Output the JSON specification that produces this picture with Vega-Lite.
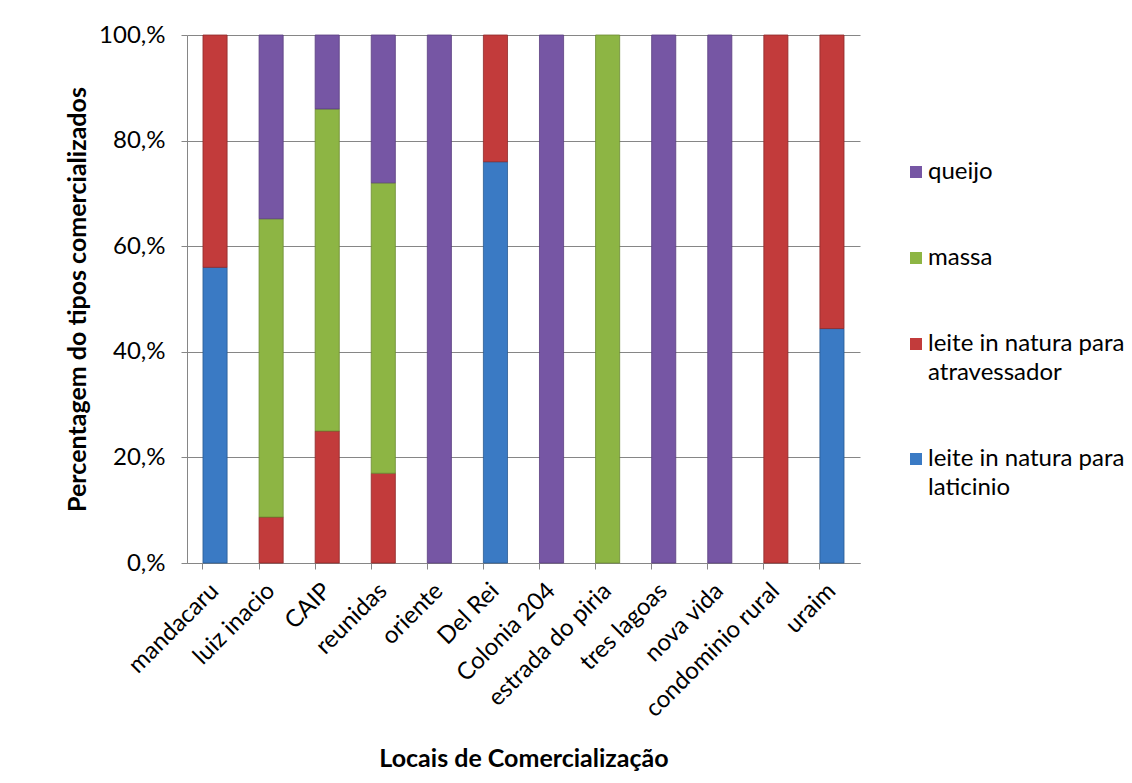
{
  "$schema": "https://vega.github.io/schema/vega-lite/v6.json",
  "width": 673,
  "height": 528,
  "autosize": {"type": "none"},
  "padding": {"left": 187, "top": 35, "right": 272, "bottom": 220},
  "background": "white",
  "config": {
    "view": {"stroke": null},
    "font": "Lato",
    "axis": {"labelFont": "Lato", "titleFont": "Lato", "labelColor": "#000000", "titleColor": "#000000"},
    "legend": {"labelFont": "Lato"},
    "style": {"guide-label": {"lineHeight": 29}}
  },
  "data": {
    "values": [
      {"local": "mandacaru", "tipo": "leite in natura para laticinio", "k": 1, "pct": 56},
      {"local": "mandacaru", "tipo": "leite in natura para atravessador", "k": 2, "pct": 44},
      {"local": "luiz inacio", "tipo": "leite in natura para atravessador", "k": 2, "pct": 8.7},
      {"local": "luiz inacio", "tipo": "massa", "k": 3, "pct": 56.5},
      {"local": "luiz inacio", "tipo": "queijo", "k": 4, "pct": 34.8},
      {"local": "CAIP", "tipo": "leite in natura para atravessador", "k": 2, "pct": 25},
      {"local": "CAIP", "tipo": "massa", "k": 3, "pct": 61},
      {"local": "CAIP", "tipo": "queijo", "k": 4, "pct": 14},
      {"local": "reunidas", "tipo": "leite in natura para atravessador", "k": 2, "pct": 17},
      {"local": "reunidas", "tipo": "massa", "k": 3, "pct": 55},
      {"local": "reunidas", "tipo": "queijo", "k": 4, "pct": 28},
      {"local": "oriente", "tipo": "queijo", "k": 4, "pct": 100},
      {"local": "Del Rei", "tipo": "leite in natura para laticinio", "k": 1, "pct": 76},
      {"local": "Del Rei", "tipo": "leite in natura para atravessador", "k": 2, "pct": 24},
      {"local": "Colonia 204", "tipo": "queijo", "k": 4, "pct": 100},
      {"local": "estrada do piria", "tipo": "massa", "k": 3, "pct": 100},
      {"local": "tres lagoas", "tipo": "queijo", "k": 4, "pct": 100},
      {"local": "nova vida", "tipo": "queijo", "k": 4, "pct": 100},
      {"local": "condominio rural", "tipo": "leite in natura para atravessador", "k": 2, "pct": 100},
      {"local": "uraim", "tipo": "leite in natura para laticinio", "k": 1, "pct": 44.4},
      {"local": "uraim", "tipo": "leite in natura para atravessador", "k": 2, "pct": 55.6}
    ]
  },
  "mark": {"type": "bar", "strokeWidth": 0.8},
  "encoding": {
    "x": {
      "field": "local",
      "type": "nominal",
      "sort": ["mandacaru", "luiz inacio", "CAIP", "reunidas", "oriente", "Del Rei", "Colonia 204", "estrada do piria", "tres lagoas", "nova vida", "condominio rural", "uraim"],
      "scale": {"paddingInner": 0.57, "paddingOuter": 0.285},
      "axis": {
        "title": "Locais de Comercialização",
        "titleFontSize": 25,
        "titleFontWeight": "bold",
        "titleY": 203,
        "titleBaseline": "alphabetic",
        "labelAngle": -45,
        "labelAlign": "right",
        "labelBaseline": "middle",
        "labelFontSize": 24,
        "labelPadding": 18,
        "labelLimit": 300,
        "labelOverlap": false,
        "bandPosition": 0,
        "domainColor": "#868686",
        "tickColor": "#868686",
        "tickSize": 6,
        "grid": false
      }
    },
    "y": {
      "field": "pct",
      "type": "quantitative",
      "stack": "normalize",
      "scale": {"domain": [0, 1]},
      "axis": {
        "title": "Percentagem do tipos comercializados",
        "titleFontSize": 25,
        "titleFontWeight": "bold",
        "titleX": -110,
        "titleY": 264,
        "titleAngle": 270,
        "titleAlign": "center",
        "titleBaseline": "middle",
        "values": [0, 0.2, 0.4, 0.6, 0.8, 1],
        "labelExpr": "round(datum.value*100) + ',%'",
        "labelFontSize": 24,
        "labelPadding": 16,
        "labelOverlap": false,
        "domainColor": "#868686",
        "tickColor": "#868686",
        "tickSize": 6,
        "gridColor": "#868686",
        "gridWidth": 1
      }
    },
    "color": {
      "field": "tipo",
      "type": "nominal",
      "scale": {
        "domain": ["queijo", "massa", "leite in natura para atravessador", "leite in natura para laticinio"],
        "range": ["#7656A4", "#8DB544", "#C23B3B", "#3A7AC4"]
      },
      "legend": {
        "title": null,
        "orient": "none",
        "legendX": 717,
        "legendY": 125,
        "symbolType": "square",
        "symbolSize": 144,
        "symbolStrokeWidth": 0,
        "labelFontSize": 24,
        "labelColor": "#000000",
        "labelOffset": 0,
        "labelLimit": 300,
        "rowPadding": 62,
        "labelExpr": "indexof(datum.label, 'leite') == 0 ? ['leite in natura para', slice(datum.label, 21)] : datum.label"
      }
    },
    "stroke": {
      "field": "tipo",
      "type": "nominal",
      "scale": {
        "domain": ["queijo", "massa", "leite in natura para atravessador", "leite in natura para laticinio"],
        "range": ["#5A3F80", "#6C8A32", "#8E2A2A", "#2A5A92"]
      },
      "legend": null
    },
    "order": {"field": "k", "type": "quantitative"}
  }
}
